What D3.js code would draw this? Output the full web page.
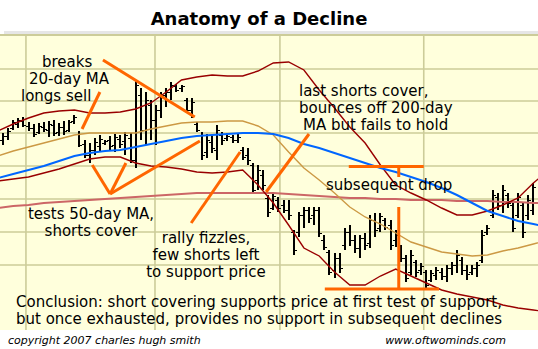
<!DOCTYPE html>
<html>
<head>
<meta charset="utf-8">
<script src="https://cdn.jsdelivr.net/npm/d3@7"></script>
<style>
  body { margin: 0; background: #fff; }
  text { font-family: "DejaVu Sans", Verdana, sans-serif; }
</style>
</head>
<body>
<script>
// daily price bars (index 0..104)
var highs = [59.7,60.2,61.0,61.2,61.3,60.8,60.6,60.7,60.8,60.9,
  61.0,60.7,60.9,61.0,61.5,59.9,59.0,58.7,59.2,59.5,
  59.0,59.4,59.6,59.5,59.8,59.7,65.0,64.2,63.8,63.0,
  62.5,63.8,64.2,64.8,64.6,64.5,63.2,63.2,60.8,59.8,
  59.6,59.4,60.5,59.8,59.7,59.5,59.7,58.3,58.2,56.7,
  56.5,56.0,53.5,53.8,53.3,53.0,53.0,50.0,51.8,52.3,
  52.3,52.3,52.3,49.5,48.0,47.7,47.7,50.2,50.5,49.5,
  49.5,49.7,51.5,51.7,51.7,51.2,51.0,50.0,48.5,47.5,
  48.0,47.0,46.7,46.0,46.0,46.3,46.2,46.5,46.8,48.0,
  47.3,46.5,46.5,46.8,50.0,50.5,54.0,53.7,54.5,53.7,
  52.7,53.7,52.7,53.5,54.7];
var lows = [58.5,59.0,60.0,60.2,60.3,59.9,59.3,59.6,59.8,59.3,
  59.4,59.4,59.5,59.8,60.6,58.3,57.2,56.7,57.5,57.9,
  58.5,58.0,57.8,58.2,57.5,56.7,56.2,59.0,58.5,59.0,
  58.5,61.2,62.3,63.0,63.8,63.8,61.7,61.2,59.8,57.0,
  57.2,57.7,57.0,58.5,58.9,58.7,58.7,57.0,56.5,53.7,
  54.0,54.0,51.3,52.0,51.8,51.7,51.0,47.5,49.3,50.2,
  50.7,50.5,49.3,48.0,45.5,45.2,45.7,48.0,48.4,47.7,
  47.2,48.0,48.2,49.3,49.8,50.0,48.0,48.3,46.8,44.8,
  45.5,45.3,45.5,44.0,44.8,45.0,45.0,44.8,45.5,45.7,
  45.5,45.0,45.5,45.3,46.7,49.5,51.2,52.0,51.7,52.2,
  49.8,51.2,49.2,51.0,51.5];
var opens = [59.0,59.4,60.2,60.6,60.9,60.4,60.2,59.8,60.3,60.0,
  60.5,59.8,60.3,60.0,60.9,59.6,58.6,57.5,58.0,58.4,
  58.7,59.0,58.5,59.1,58.9,59.2,57.0,63.5,60.0,62.5,
  61.0,62.0,63.5,63.8,64.4,64.2,63.0,62.0,60.6,59.5,
  57.8,58.8,58.0,59.5,59.2,59.3,59.0,58.0,57.5,56.5,
  55.0,55.5,53.2,52.2,53.0,52.5,52.0,49.8,49.8,51.5,
  52.0,51.5,52.0,49.0,47.8,46.0,47.2,48.5,49.8,49.0,
  48.2,49.2,48.7,51.0,50.2,51.0,50.5,49.0,48.2,47.2,
  45.8,46.8,46.0,45.8,45.0,45.5,45.8,45.4,46.2,46.5,
  47.0,46.0,45.8,46.2,47.0,49.8,51.5,53.3,52.5,53.5,
  52.5,51.5,52.5,51.5,52.0];
var closes = [59.4,59.9,60.8,61.0,60.5,60.2,59.6,60.4,60.1,60.6,
  59.7,60.3,59.9,60.8,61.3,58.5,57.5,58.0,58.8,59.1,
  58.9,58.4,59.3,58.6,59.5,57.0,64.5,60.0,63.0,61.0,
  62.0,63.5,63.8,64.5,64.0,64.4,62.0,62.8,60.0,57.5,
  59.0,58.2,60.0,59.0,59.4,59.0,59.3,57.3,57.0,54.0,
  56.0,54.5,51.8,53.4,52.2,52.0,51.5,48.0,51.5,52.0,
  51.2,52.0,49.7,48.3,45.8,47.2,46.2,49.8,49.0,48.2,
  49.2,48.5,51.0,50.0,51.4,50.3,48.5,49.5,47.2,45.2,
  47.5,45.8,46.4,44.5,45.7,46.0,45.4,46.2,46.5,47.5,
  46.0,45.6,46.2,46.5,49.5,50.2,53.5,52.5,54.0,52.7,
  50.2,53.3,49.8,53.0,54.3];

// overlay readings, taken every third bar (-1, 2, 5 ... 107)
var maIdx = d3.range(-1, 108, 3);
var upperBand = [59.9,60.6,61.2,61.7,61.9,62.0,61.7,61.7,61.8,62.1,62.7,63.8,65.0,65.3,65.5,65.4,65.4,65.9,66.7,66.8,
  66.0,64.0,62.2,60.3,58.7,56.5,54.5,53.7,53.0,52.2,51.5,51.5,51.9,52.5,53.2,54.7,56.0];
var lowerBand = [54.9,55.1,55.3,55.7,56.1,56.6,57.1,57.3,57.3,56.7,56.4,56.3,56.1,55.8,55.7,55.8,56.0,54.5,52.7,50.5,
  48.2,47.4,45.8,44.5,44.5,45.4,46.1,45.4,44.7,44.0,43.6,43.3,43.0,42.5,42.2,42.0,41.8];
var ma20 = [57.4,57.9,58.3,58.7,59.1,59.5,59.7,59.7,59.7,59.7,60.1,60.4,60.7,60.8,60.8,60.9,60.9,60.4,59.5,57.8,
  56.2,55.0,53.7,52.3,51.3,50.6,49.7,48.8,48.3,47.8,47.6,47.4,47.5,47.9,48.2,48.6,49.0];
var ma50 = [55.2,55.6,56.0,56.4,56.9,57.4,57.7,57.9,58.0,58.3,58.6,58.9,59.2,59.4,59.5,59.6,59.7,59.7,59.6,59.2,
  58.6,58.2,57.7,57.2,56.7,56.2,55.8,55.3,54.8,54.2,53.5,52.7,51.9,51.4,50.9,50.6,50.3];
var ma200 = [52.2,52.4,52.5,52.7,52.8,52.9,53.0,53.1,53.2,53.3,53.4,53.5,53.6,53.7,53.7,53.7,53.7,53.7,53.7,53.6,
  53.5,53.4,53.3,53.2,53.2,53.1,53.1,53.0,53.0,53.0,52.9,52.9,52.9,52.8,52.8,52.7,52.7];

// grid
var gridPrices = [66.1, 62.9, 59.7, 56.4, 53.1, 49.8, 46.5];
var gridIdx = [4.5, 29.8, 54.3, 82.5];

var W = 538, H = 349;
var plotTop = 34, plotBottom = 330;

var x = d3.scaleLinear().domain([0, 104]).range([3, 533.4]);
var y = d3.scaleLinear().domain([40, 69.6]).range([plotBottom, plotTop]);

var svg = d3.select("body").append("svg")
    .attr("width", W)
    .attr("height", H);

svg.append("rect").attr("width", W).attr("height", H).attr("fill", "#fff");

// title
svg.append("text")
    .attr("x", 259).attr("y", 25)
    .attr("text-anchor", "middle")
    .attr("font-size", "18px")
    .attr("font-weight", "bold")
    .text("Anatomy of a Decline");

// plot frame
svg.append("rect").attr("x", 4).attr("y", 31).attr("width", W - 4).attr("height", 3).attr("fill", "#e6e6e6");
svg.append("rect").attr("x", 0).attr("y", plotTop).attr("width", W).attr("height", plotBottom - plotTop).attr("fill", "#ffffdc");

svg.append("defs").append("clipPath").attr("id", "plot")
  .append("rect").attr("x", 0).attr("y", plotTop).attr("width", W).attr("height", plotBottom - plotTop);

var g = svg.append("g").attr("clip-path", "url(#plot)");

g.append("line").attr("x1", 0).attr("x2", W).attr("y1", plotTop + 1).attr("y2", plotTop + 1)
    .attr("stroke", "#cccc99").attr("stroke-width", 2);

g.selectAll(".hgrid").data(gridPrices).enter().append("line")
    .attr("x1", 0).attr("x2", W)
    .attr("y1", function(d) { return y(d); })
    .attr("y2", function(d) { return y(d); })
    .attr("stroke", "#cccc99").attr("stroke-width", 1.6);

g.selectAll(".vgrid").data(gridIdx).enter().append("line")
    .attr("x1", function(d) { return x(d); })
    .attr("x2", function(d) { return x(d); })
    .attr("y1", plotTop).attr("y2", plotBottom)
    .attr("stroke", "#cccc99").attr("stroke-width", 1.6);

// price bars
var bx = function(i) { return Math.round(x(i)); };
var bars = g.selectAll(".bar").data(highs).enter().append("g")
    .attr("shape-rendering", "crispEdges");
bars.append("line")
    .attr("x1", function(d, i) { return bx(i); })
    .attr("x2", function(d, i) { return bx(i); })
    .attr("y1", function(d) { return y(d); })
    .attr("y2", function(d, i) { return y(lows[i]); })
    .attr("stroke", "#000").attr("stroke-width", 2);
bars.append("line")
    .attr("x1", function(d, i) { return bx(i) - 3; })
    .attr("x2", function(d, i) { return bx(i); })
    .attr("y1", function(d, i) { return y(opens[i]); })
    .attr("y2", function(d, i) { return y(opens[i]); })
    .attr("stroke", "#000").attr("stroke-width", 1);
bars.append("line")
    .attr("x1", function(d, i) { return bx(i); })
    .attr("x2", function(d, i) { return bx(i) + 3; })
    .attr("y1", function(d, i) { return y(closes[i]); })
    .attr("y2", function(d, i) { return y(closes[i]); })
    .attr("stroke", "#000").attr("stroke-width", 1);

// overlays
var line = d3.line()
    .x(function(d, i) { return x(maIdx[i]); })
    .y(function(d) { return y(d); });

function overlay(vals, color, w) {
  g.append("path").datum(vals)
      .attr("d", line)
      .attr("fill", "none")
      .attr("stroke", color)
      .attr("stroke-width", w);
}
overlay(ma200, "#cc6666", 2);
overlay(upperBand, "#990000", 1.4);
overlay(lowerBand, "#990000", 1.4);
overlay(ma20, "#cc9944", 1.4);
overlay(ma50, "#0066ff", 2);

// annotation pointers, in chart coordinates [bar index, price]
var pointers = [
  [[19.6, 67.0], [37.6, 61.3]],
  [[19.0, 63.8], [15.5, 60.1]],
  [[17.5, 56.5], [21.0, 53.6]],
  [[24.1, 56.7], [21.0, 53.6]],
  [[38.6, 58.9], [21.0, 53.6]],
  [[36.9, 50.7], [46.5, 57.8]],
  [[51.6, 53.8], [60.0, 59.6]],
  [[67.8, 56.35], [82.5, 56.35]],
  [[77.6, 56.35], [77.6, 55.3]],
  [[77.6, 52.3], [77.6, 44.1]],
  [[63.1, 44.1], [85.5, 44.1]]
];
svg.selectAll(".ptr").data(pointers).enter().append("line")
    .attr("x1", function(d) { return x(d[0][0]); })
    .attr("y1", function(d) { return y(d[0][1]); })
    .attr("x2", function(d) { return x(d[1][0]); })
    .attr("y2", function(d) { return y(d[1][1]); })
    .attr("stroke", "#ff6600").attr("stroke-width", 3);

// labels
var labels = [
  { t: "breaks", x: 42, y: 67, a: "start" },
  { t: "20-day MA", x: 29, y: 84, a: "start" },
  { t: "longs sell", x: 21, y: 101, a: "start" },
  { t: "last shorts cover,", x: 299, y: 96, a: "start" },
  { t: "bounces off 200-day", x: 299, y: 113, a: "start" },
  { t: "MA but fails to hold", x: 303, y: 130, a: "start" },
  { t: "subsequent drop", x: 326, y: 190, a: "start" },
  { t: "tests 50-day MA,", x: 91, y: 219, a: "middle" },
  { t: "shorts cover", x: 91, y: 236, a: "middle" },
  { t: "rally fizzles,", x: 206, y: 243, a: "middle" },
  { t: "few shorts left", x: 206, y: 260, a: "middle" },
  { t: "to support price", x: 206, y: 277, a: "middle" },
  { t: "Conclusion: short covering supports price at first test of support,", x: 259, y: 307, a: "middle" },
  { t: "but once exhausted, provides no support in subsequent declines", x: 259, y: 324, a: "middle" }
];
svg.selectAll(".lbl").data(labels).enter().append("text")
    .attr("x", function(d) { return d.x; })
    .attr("y", function(d) { return d.y; })
    .attr("text-anchor", function(d) { return d.a; })
    .attr("font-size", "15px")
    .attr("fill", "#000")
    .text(function(d) { return d.t; });

// footer
svg.append("text").attr("x", 8).attr("y", 344)
    .attr("font-size", "11px").attr("font-style", "italic")
    .text("copyright 2007 charles hugh smith");
svg.append("text").attr("x", 506).attr("y", 344)
    .attr("text-anchor", "end")
    .attr("font-size", "11px").attr("font-style", "italic")
    .text("www.oftwominds.com");
</script>
</body>
</html>
